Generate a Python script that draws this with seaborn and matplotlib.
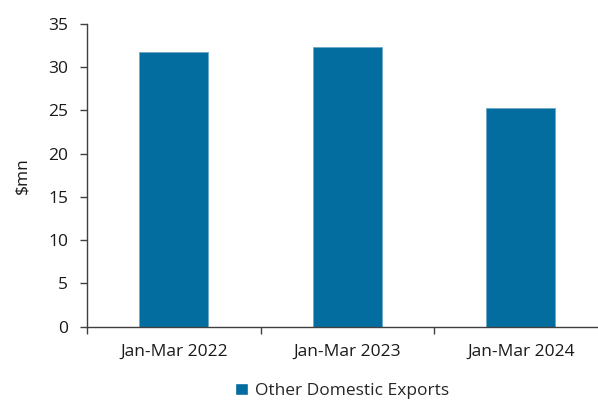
import matplotlib
matplotlib.use("Agg")
import matplotlib.pyplot as plt
import seaborn as sns
import pandas as pd

periods = ["Jan-Mar 2022", "Jan-Mar 2023", "Jan-Mar 2024"]
values = [31.8, 32.3, 25.25]
series_name = "Other Domestic Exports"
y_ticks = [0, 5, 10, 15, 20, 25, 30, 35]

sns.set_style("white")
plt.rcParams["font.family"] = ["Open Sans", "DejaVu Sans"]

df = pd.DataFrame({"period": periods, "value": values, "series": series_name})

fig = plt.figure(figsize=(5.98, 4.0), dpi=100)
ax = fig.add_axes([87 / 598, 73.3 / 400, 520.5 / 598, 302.7 / 400])

bar_color = "#036DA0"
fs = 12.5
text_color = "#1a1a1a"
sns.barplot(data=df, x="period", y="value", hue="series", palette=[bar_color],
            saturation=1, width=0.4, ax=ax, legend=False,
            edgecolor="#6fa8c8", linewidth=0.6)

axis_color = "#404040"
ax.set_xlim(-0.5, 2.5)
ax.set_ylim(0, 35)
ax.set_yticks(y_ticks)
ax.set_xticks(range(len(periods)))
ax.set_xticklabels(periods)
ax.set_xticks([-0.5, 0.5, 1.5, 2.5], minor=True)
ax.tick_params(axis="x", which="major", length=0, pad=12.5, labelsize=fs, colors=text_color)
ax.tick_params(axis="x", which="minor", length=5, width=1, color=axis_color, direction="out", bottom=True)
ax.tick_params(axis="y", length=5, width=1, color=axis_color, pad=8.5, labelsize=fs,
               labelcolor=text_color, direction="out", left=True)

for side in ["top", "right"]:
    ax.spines[side].set_visible(False)
for side in ["left", "bottom"]:
    ax.spines[side].set_color(axis_color)
    ax.spines[side].set_linewidth(1)

ax.set_xlabel("")
ax.set_ylabel("$mn", fontsize=fs, color=text_color, labelpad=13)

handle = plt.Rectangle((0, 0), 1, 1, facecolor=bar_color)
fig.legend([handle], [series_name], loc="center", bbox_to_anchor=(0.572, 9 / 400),
           frameon=False, fontsize=fs, handlelength=0.7, handleheight=0.7,
           handletextpad=0.4, borderpad=0)

fig.savefig("out.png", dpi=100)
